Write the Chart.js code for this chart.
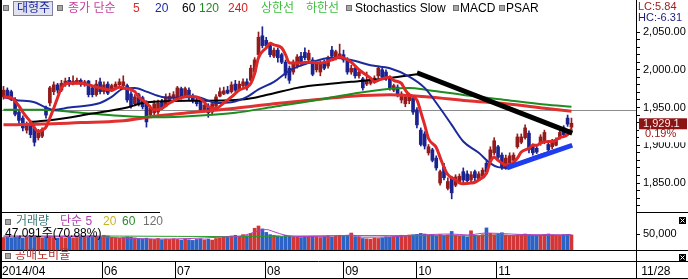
<!DOCTYPE html>
<html lang="ko">
<head>
  <meta charset="UTF-8">
  <title>대형주 일봉 차트</title>
  <script src="https://cdn.jsdelivr.net/npm/chart.js"></script>
  <style>
    html, body { margin: 0; padding: 0; background: #fff; overflow: hidden; }
    canvas { display: block; }
  </style>
</head>
<body>
  <canvas id="hts" width="688" height="279"></canvas>
  <script>
    // 대형주 일봉, 2014/04 말 ~ 2014/11/28 (148 거래일)
    const opens = [
      1964,1973,1971,1960,1944,1936,1920,1930,1923,1910,
      1912,1949,1956,1971,1980,1973,1981,1986,1981,1984,
      1986,1980,1985,1976,1967,1984,1971,1981,1972,1977,
      1980,1979,1979,1968,1955,1967,1963,1956,1940,1943,
      1944,1957,1952,1959,1963,1964,1975,1965,1973,1965,
      1960,1959,1947,1952,1944,1952,1965,1968,1973,1971,
      1981,1973,1979,1984,1986,1997,2020,2045,2039,2032,
      2018,2026,2020,2010,2002,1997,2005,2018,2023,2013,
      2013,2000,1997,2010,2005,2026,2016,2018,2020,2013,
      1997,2002,1992,1988,1981,1982,1984,1992,2000,1997,
      1989,1973,1977,1960,1955,1959,1963,1947,1920,1915,
      1890,1894,1883,1850,1871,1843,1857,1847,1851,1865,
      1862,1854,1865,1854,1859,1876,1880,1890,1898,1887,
      1871,1876,1880,1898,1904,1910,1916,1899,1896,1903,
      1904,1901,1898,1900,1911,1923,1936,1924
    ];
    const highs = [
      1978,1976,1973,1963,1947,1939,1931,1932,1926,1921,
      1923,1952,1978,1984,1982,1986,1989,1990,1992,1989,
      1988,1986,1986,1978,1986,1989,1984,1984,1981,1984,
      1988,1992,1981,1971,1967,1969,1965,1959,1953,1959,
      1960,1961,1968,1969,1971,1978,1977,1977,1976,1968,
      1964,1961,1955,1955,1957,1967,1976,1977,1978,1984,
      1986,1985,1988,1988,2006,2016,2050,2057,2043,2034,
      2029,2029,2022,2013,2005,2013,2020,2023,2029,2026,
      2016,2010,2012,2013,2018,2031,2026,2034,2026,2016,
      2006,2005,2000,1990,1997,1990,1992,2005,2002,2000,
      1992,1981,1980,1971,1967,1969,1965,1950,1923,1918,
      1901,1896,1886,1867,1876,1857,1859,1861,1862,1870,
      1866,1865,1867,1865,1870,1879,1898,1910,1900,1890,
      1887,1890,1890,1915,1915,1927,1919,1902,1899,1914,
      1920,1904,1908,1910,1920,1926,1940,1936
    ];
    const lows = [
      1961,1963,1959,1939,1928,1919,1916,1910,1899,1907,
      1910,1936,1952,1967,1969,1971,1978,1978,1980,1981,
      1978,1978,1964,1964,1965,1968,1968,1967,1971,1976,
      1979,1977,1957,1949,1952,1952,1948,1924,1937,1940,
      1941,1947,1951,1956,1960,1961,1961,1963,1960,1956,
      1952,1944,1944,1937,1941,1951,1964,1967,1968,1969,
      1971,1972,1976,1973,1984,1994,2017,2029,2028,2017,
      2016,2010,2008,1989,1982,1994,2002,2005,2013,2010,
      1992,1997,1992,2000,2002,2016,2013,2016,2010,1994,
      1994,1989,1989,1973,1979,1980,1982,1989,1988,1986,
      1973,1971,1964,1956,1951,1955,1941,1923,1899,1895,
      1887,1878,1867,1847,1854,1841,1829,1845,1849,1850,
      1850,1851,1853,1853,1857,1862,1878,1887,1882,1868,
      1868,1874,1876,1896,1902,1908,1890,1887,1889,1900,
      1902,1891,1895,1899,1908,1911,1925,1921
    ];
    const closes = [
      1973,1965,1961,1941,1933,1923,1928,1914,1904,1918,
      1920,1940,1976,1980,1973,1982,1985,1981,1985,1986,
      1981,1984,1967,1967,1981,1971,1980,1969,1979,1981,
      1984,1984,1960,1952,1964,1955,1951,1931,1949,1955,
      1956,1949,1964,1965,1967,1976,1964,1975,1963,1959,
      1955,1947,1953,1943,1955,1964,1971,1972,1969,1980,
      1973,1981,1984,1976,2002,2013,2043,2032,2032,2020,
      2026,2016,2010,1993,1986,2010,2017,2008,2016,2022,
      1994,2008,2009,2002,2016,2018,2024,2021,2013,1997,
      2002,1992,1997,1976,1986,1988,1989,2002,1990,1989,
      1976,1979,1967,1968,1964,1965,1944,1927,1901,1899,
      1898,1880,1870,1865,1857,1852,1837,1858,1859,1854,
      1853,1861,1857,1862,1867,1865,1894,1906,1884,1871,
      1883,1886,1887,1911,1911,1923,1894,1890,1891,1911,
      1917,1894,1906,1907,1917,1914,1928,1929.1
    ];
    const volumes = [
      39000,41000,38000,40000,42000,37000,40000,43000,45000,40000,
      38000,41000,44000,39000,37000,40000,38000,41000,38000,39000,
      42000,40000,44000,45000,43000,41000,46000,44000,40000,38000,
      37000,39000,41000,40000,38000,36000,35000,37000,34000,33000,
      36000,32000,34000,33000,35000,33000,31000,34000,32000,30000,
      33000,35000,32000,34000,31000,36000,38000,41000,40000,44000,
      46000,43000,48000,45000,52000,68000,75000,66000,55000,48000,
      46000,44000,42000,46000,43000,41000,40000,39000,42000,40000,
      43000,41000,39000,42000,44000,40000,43000,46000,44000,44000,
      53000,42000,40000,36000,35000,34000,37000,36000,38000,41000,
      40000,42000,44000,46000,45000,47000,48000,49000,52000,50000,
      47000,46000,44000,48000,45000,47000,58000,45000,43000,44000,
      41000,60000,46000,44000,48000,69000,52000,48000,50000,54000,
      47000,45000,44000,47000,46000,50000,48000,45000,44000,46000,
      49000,50000,47000,46000,45000,48000,49000,47091
    ];

    // 이동평균선 (그림에서 읽은 값, 거래일 번호 기준)
    const ma5Idx = [0,2,4,5,7,9,10,11,12,13,14,15,17,20,22,25,28,30,31,34,35,37,39,41,43,46,48,50,52,53,
      55,57,59,61,64,65,66,68,69,70,72,73,74,77,79,82,85,87,90,92,95,96,97,100,101,103,104,105,107,108,
      109,110,112,113,114,115,117,118,119,121,122,123,125,126,127,128,130,131,133,134,136,137,138,139,141,142,143,144,146,147];
    const ma5 = [1964,1963,1952,1944,1931,1918,1920,1924,1936,1949,1963,1976,1982,1982,1980,1976,1973,1977,1976,1971,
      1964,1956,1947,1949,1956,1963,1965,1964,1957,1951,1949,1956,1964,1973,1982,1995,2016,2029,2035,2033,
      2029,2020,2009,2009,2010,2009,2013,2017,2010,2000,1989,1984,1986,1990,1986,1982,1973,1967,1960,1944,
      1927,1909,1897,1884,1871,1861,1854,1850,1849,1850,1851,1854,1863,1878,1884,1880,1874,1874,1883,1891,
      1896,1900,1900,1903,1905,1905,1907,1910,1914,1922];
    const ma20Idx = [0,3,8,11,13,17,25,28,31,34,37,41,44,50,55,59,63,66,70,74,79,85,90,95,100,105,109,113,116,119,123,126,128,130,135,140,147];
    const ma20 = [1964,1960,1957,1950,1947,1950,1956,1964,1975,1976,1971,1964,1963,1964,1956,1957,1964,1974,1984,1999,
      2009,2016,2013,2006,2002,1991,1976,1949,1927,1905,1890,1876,1871,1870,1880,1889,1900];
    const ma60Idx = [7,12,23,32,37,50,60,65,70,76,80,90,100,107];
    const ma60 = [1931,1933,1942,1950,1957,1959,1960,1963,1969,1976,1979,1984,1989,1994];
    const ma120Idx = [0,10,20,30,40,50,60,70,80,90,100,105,110,120,130,140,147];
    const ma120 = [1947,1947,1943,1939,1937,1939,1943,1951,1959,1968,1975,1976,1973,1966,1960,1954,1951];
    const ma240Idx = [0,10,20,30,40,50,60,70,80,90,100,110,120,130,140,147];
    const ma240 = [1927,1928,1930,1932,1939,1944,1949,1955,1960,1965,1967,1964,1959,1955,1949,1945];

    // 추세선 두 개와 기준선
    const downIdx = [107, 147.2];
    const downVal = [1996, 1916];
    const upIdx = [130.3, 147.2];
    const upVal = [1870, 1900];
    const baseLevel = 1946;

    // 거래량 이동평균
    const volMa5Idx = [0,20,40,56,62,64,66,68,70,73,78,88,90,93,100,110,116,120,125,128,135,147];
    const volMa5 = [41000,42000,34000,40000,45000,52000,60000,64000,57000,46000,42000,45000,47000,40000,41000,48000,50000,47000,53000,52000,48000,47500];
    const volMa60Idx = [0,30,60,90,120,147];
    const volMa60 = [44000,43500,42000,45000,44500,46000];

    // 축 눈금
    const monthTicks = [-0.906, 25.5, 44.4, 67.7, 87.9, 106.8, 127.5, 163.7];
    const monthLabels = ['2014/04', '06', '07', '08', '09', '10', '11', ' 11/28'];
    const priceMajor = [1850, 1900, 1950, 2000, 2050];
    const volTicks = [50000];

    const lastClose = closes[closes.length - 1];
    const idx = closes.map((_, i) => i);
    const pts = (xs, ys) => xs.map((x, k) => ({ x: x, y: ys[k] }));
    const isUp = idx.map(i => closes[i] >= opens[i]);
    const candleColor = isUp.map(u => u ? '#941b1b' : '#1b2390');
    const volColor = isUp.map(u => u ? '#d23636' : '#2c62c6');

    const FONT = '"Liberation Sans", "Noto Sans CJK KR", sans-serif';

    function lineDs(data, color, width, order, axis) {
      return {
        type: 'line', data: data, borderColor: color, borderWidth: width,
        pointRadius: 0, fill: false, cubicInterpolationMode: 'monotone',
        order: order, yAxisID: axis || 'y'
      };
    }

    const decor = {
      id: 'decor',
      afterDraw(chart) {
        const c = chart.ctx;
        const py = chart.scales.y.getPixelForValue(lastClose);
        const xs = chart.scales.x;
        c.save();
        c.textBaseline = 'middle';
        const sq = (x, y) => {
          c.fillStyle = '#a8a8a8'; c.fillRect(x, y, 6, 6);
          c.strokeStyle = '#707070'; c.lineWidth = 1; c.strokeRect(x + 0.5, y + 0.5, 5, 5);
        };
        const t = (s, x, y, color, size) => {
          c.fillStyle = color; c.font = (size || 12) + 'px ' + FONT; c.fillText(s, x, y);
        };
        const hline = (x1, x2, y) => {
          c.beginPath(); c.moveTo(x1, y); c.lineTo(x2, y); c.stroke();
        };

        // 상단 범례
        sq(3, 5);
        c.fillStyle = '#e2e2ee'; c.fillRect(13, 1, 40, 15);
        c.strokeStyle = '#8080a8'; c.strokeRect(13.5, 1.5, 39, 14);
        t('대형주', 17, 9, '#1c2a9c');
        sq(57, 5);
        t('종가 단순', 68, 9, '#c8409c');
        t('5', 133, 9, '#e02828');
        t('20', 155, 9, '#1c2a9c');
        t('60', 182, 9, '#000');
        t('120', 199, 9, '#1e8c1e');
        t('240', 228, 9, '#d82020');
        t('상한선', 261, 9, '#3cbf3c');
        t('하한선', 306, 9, '#3cbf3c');
        sq(346, 5);
        t('Stochastics Slow', 355, 9, '#000');
        sq(453, 5);
        t('MACD', 460, 9, '#000');
        sq(499, 5);
        t('PSAR', 506, 9, '#000');

        // 오른쪽 상단 LC/HC
        t('LC:5.84', 638, 7, '#a02020', 11);
        t('HC:-6.31', 638, 18, '#1c1c80', 11);

        // 현재가 표시
        c.fillStyle = '#fff'; c.fillRect(639, py + 6, 49, 13);
        c.fillStyle = '#8b1414'; c.fillRect(639, py - 5, 48, 11);
        t('1,929.1', 643, py + 0.5, '#ffeaea', 11);
        t('0.19%', 645, py + 11, '#a01818', 11);

        // 패널 구분선
        c.strokeStyle = '#000'; c.lineWidth = 1;
        hline(0, 160, 212.5);
        hline(636, 688, 212.5);
        hline(0, 688, 250.5);
        hline(636, 688, 261.5);
        hline(0, 688, 278.5);
        monthTicks.forEach(v => {
          const x = Math.round(xs.getPixelForValue(v)) + 0.5;
          c.beginPath(); c.moveTo(x, 261); c.lineTo(x, 279); c.stroke();
        });
        c.lineWidth = 2;
        c.beginPath(); c.moveTo(1, 0); c.lineTo(1, 279); c.stroke();

        // 거래량 범례
        sq(5, 219);
        t('거래량', 16, 222, '#3a7a7a');
        t('단순 5', 60, 222, '#b040b0');
        t('20', 103, 222, '#c8b420');
        t('60', 122, 222, '#2a8a2a');
        t('120', 143, 222, '#707070');
        t('47,091주(70.88%)', 5, 234, '#000');

        // 공매도비율
        sq(5, 253);
        t('공매도비율', 15, 256, '#b83030');

        // 닫기 아이콘
        [217, 254].forEach(y => {
          c.fillStyle = '#000'; c.fillRect(679, y, 7, 7);
          c.strokeStyle = '#fff'; c.lineWidth = 1;
          c.beginPath(); c.moveTo(680.5, y + 1.5); c.lineTo(684.5, y + 5.5);
          c.moveTo(684.5, y + 1.5); c.lineTo(680.5, y + 5.5); c.stroke();
        });
        c.restore();
      }
    };

    const yStyle = {
      grid: { drawOnChartArea: false, drawTicks: true, tickLength: 4, color: '#000' },
      border: { display: true, color: '#000' },
      ticks: { color: '#000', font: { family: FONT, size: 11 }, padding: 3, autoSkip: false }
    };
    const fitY = s => { s.width = 52; s.paddingTop = 0; s.paddingBottom = 0; };

    new Chart(document.getElementById('hts'), {
      type: 'line',
      data: {
        datasets: [
          lineDs(pts([-1, 165], [baseLevel, baseLevel]), '#8c8c8c', 1, 20),
          {
            type: 'bar', yAxisID: 'y', order: 12, grouped: false, barThickness: 1,
            data: idx.map(i => ({ x: i, y: [lows[i], highs[i]] })),
            backgroundColor: candleColor
          },
          {
            type: 'bar', yAxisID: 'y', order: 11, grouped: false, barThickness: 3, minBarLength: 1,
            data: idx.map(i => ({ x: i, y: [opens[i], closes[i]] })),
            backgroundColor: candleColor
          },
          lineDs(pts(ma240Idx, ma240), '#e03030', 3, 9),
          lineDs(pts(ma120Idx, ma120), '#1e8c1e', 2, 8),
          lineDs(pts(ma60Idx, ma60), '#000000', 2, 7),
          lineDs(pts(ma20Idx, ma20), '#1c2a9c', 2, 6),
          lineDs(pts(ma5Idx, ma5), '#e02828', 3, 5),
          lineDs(pts(downIdx, downVal), '#000000', 5, 2),
          lineDs(pts(upIdx, upVal), '#1e3cf0', 5, 1),
          {
            type: 'bar', yAxisID: 'yVol', order: 12, grouped: false, barThickness: 3,
            data: idx.map(i => ({ x: i, y: volumes[i] })),
            backgroundColor: volColor
          },
          lineDs(pts(volMa60Idx, volMa60), '#2a9a2a', 1, 4, 'yVol'),
          lineDs(pts(volMa5Idx, volMa5), '#b040c0', 1, 3, 'yVol')
        ]
      },
      options: {
        responsive: false,
        animation: false,
        devicePixelRatio: 1,
        layout: { padding: 0 },
        plugins: { legend: { display: false }, tooltip: { enabled: false } },
        scales: {
          x: {
            type: 'linear', position: 'bottom', min: -0.906, max: 163.7, offset: false,
            grid: { display: false, drawTicks: true, tickLength: 18 },
            border: { display: true, color: '#000' },
            ticks: {
              autoSkip: false, maxRotation: 0, minRotation: 0, align: 'start', labelOffset: 2, padding: -15,
              color: '#000', font: { family: FONT, size: 12 },
              callback: (v, i) => monthLabels[i]
            },
            afterBuildTicks: s => { s.ticks = monthTicks.map(v => ({ value: v })); },
            afterFit: s => { s.height = 18; s.paddingLeft = 0; s.paddingRight = 0; }
          },
          y: Object.assign({}, yStyle, {
            type: 'linear', position: 'right', stack: 'hts', stackWeight: 212,
            min: 1811.6, max: 2092.4,
            ticks: Object.assign({}, yStyle.ticks, {
              callback: v => priceMajor.includes(v)
                ? v.toLocaleString('en-US', { minimumFractionDigits: 2, maximumFractionDigits: 2 }) : ''
            }),
            afterBuildTicks: s => {
              const t = [];
              for (let v = 1820; v <= 2050; v += 10) t.push({ value: v });
              s.ticks = t;
            },
            afterFit: fitY
          }),
          yVol: Object.assign({}, yStyle, {
            type: 'linear', position: 'right', stack: 'hts', stackWeight: 38,
            min: 0, max: 118750,
            ticks: Object.assign({}, yStyle.ticks, { callback: v => v.toLocaleString('en-US') }),
            afterBuildTicks: s => { s.ticks = volTicks.map(v => ({ value: v })); },
            afterFit: fitY
          }),
          yShort: {
            type: 'linear', position: 'right', stack: 'hts', stackWeight: 11, min: 0, max: 1,
            grid: { drawOnChartArea: false, drawTicks: false },
            border: { display: true, color: '#000' },
            ticks: { display: false },
            afterFit: fitY
          }
        }
      },
      plugins: [decor]
    });
  </script>
</body>
</html>
